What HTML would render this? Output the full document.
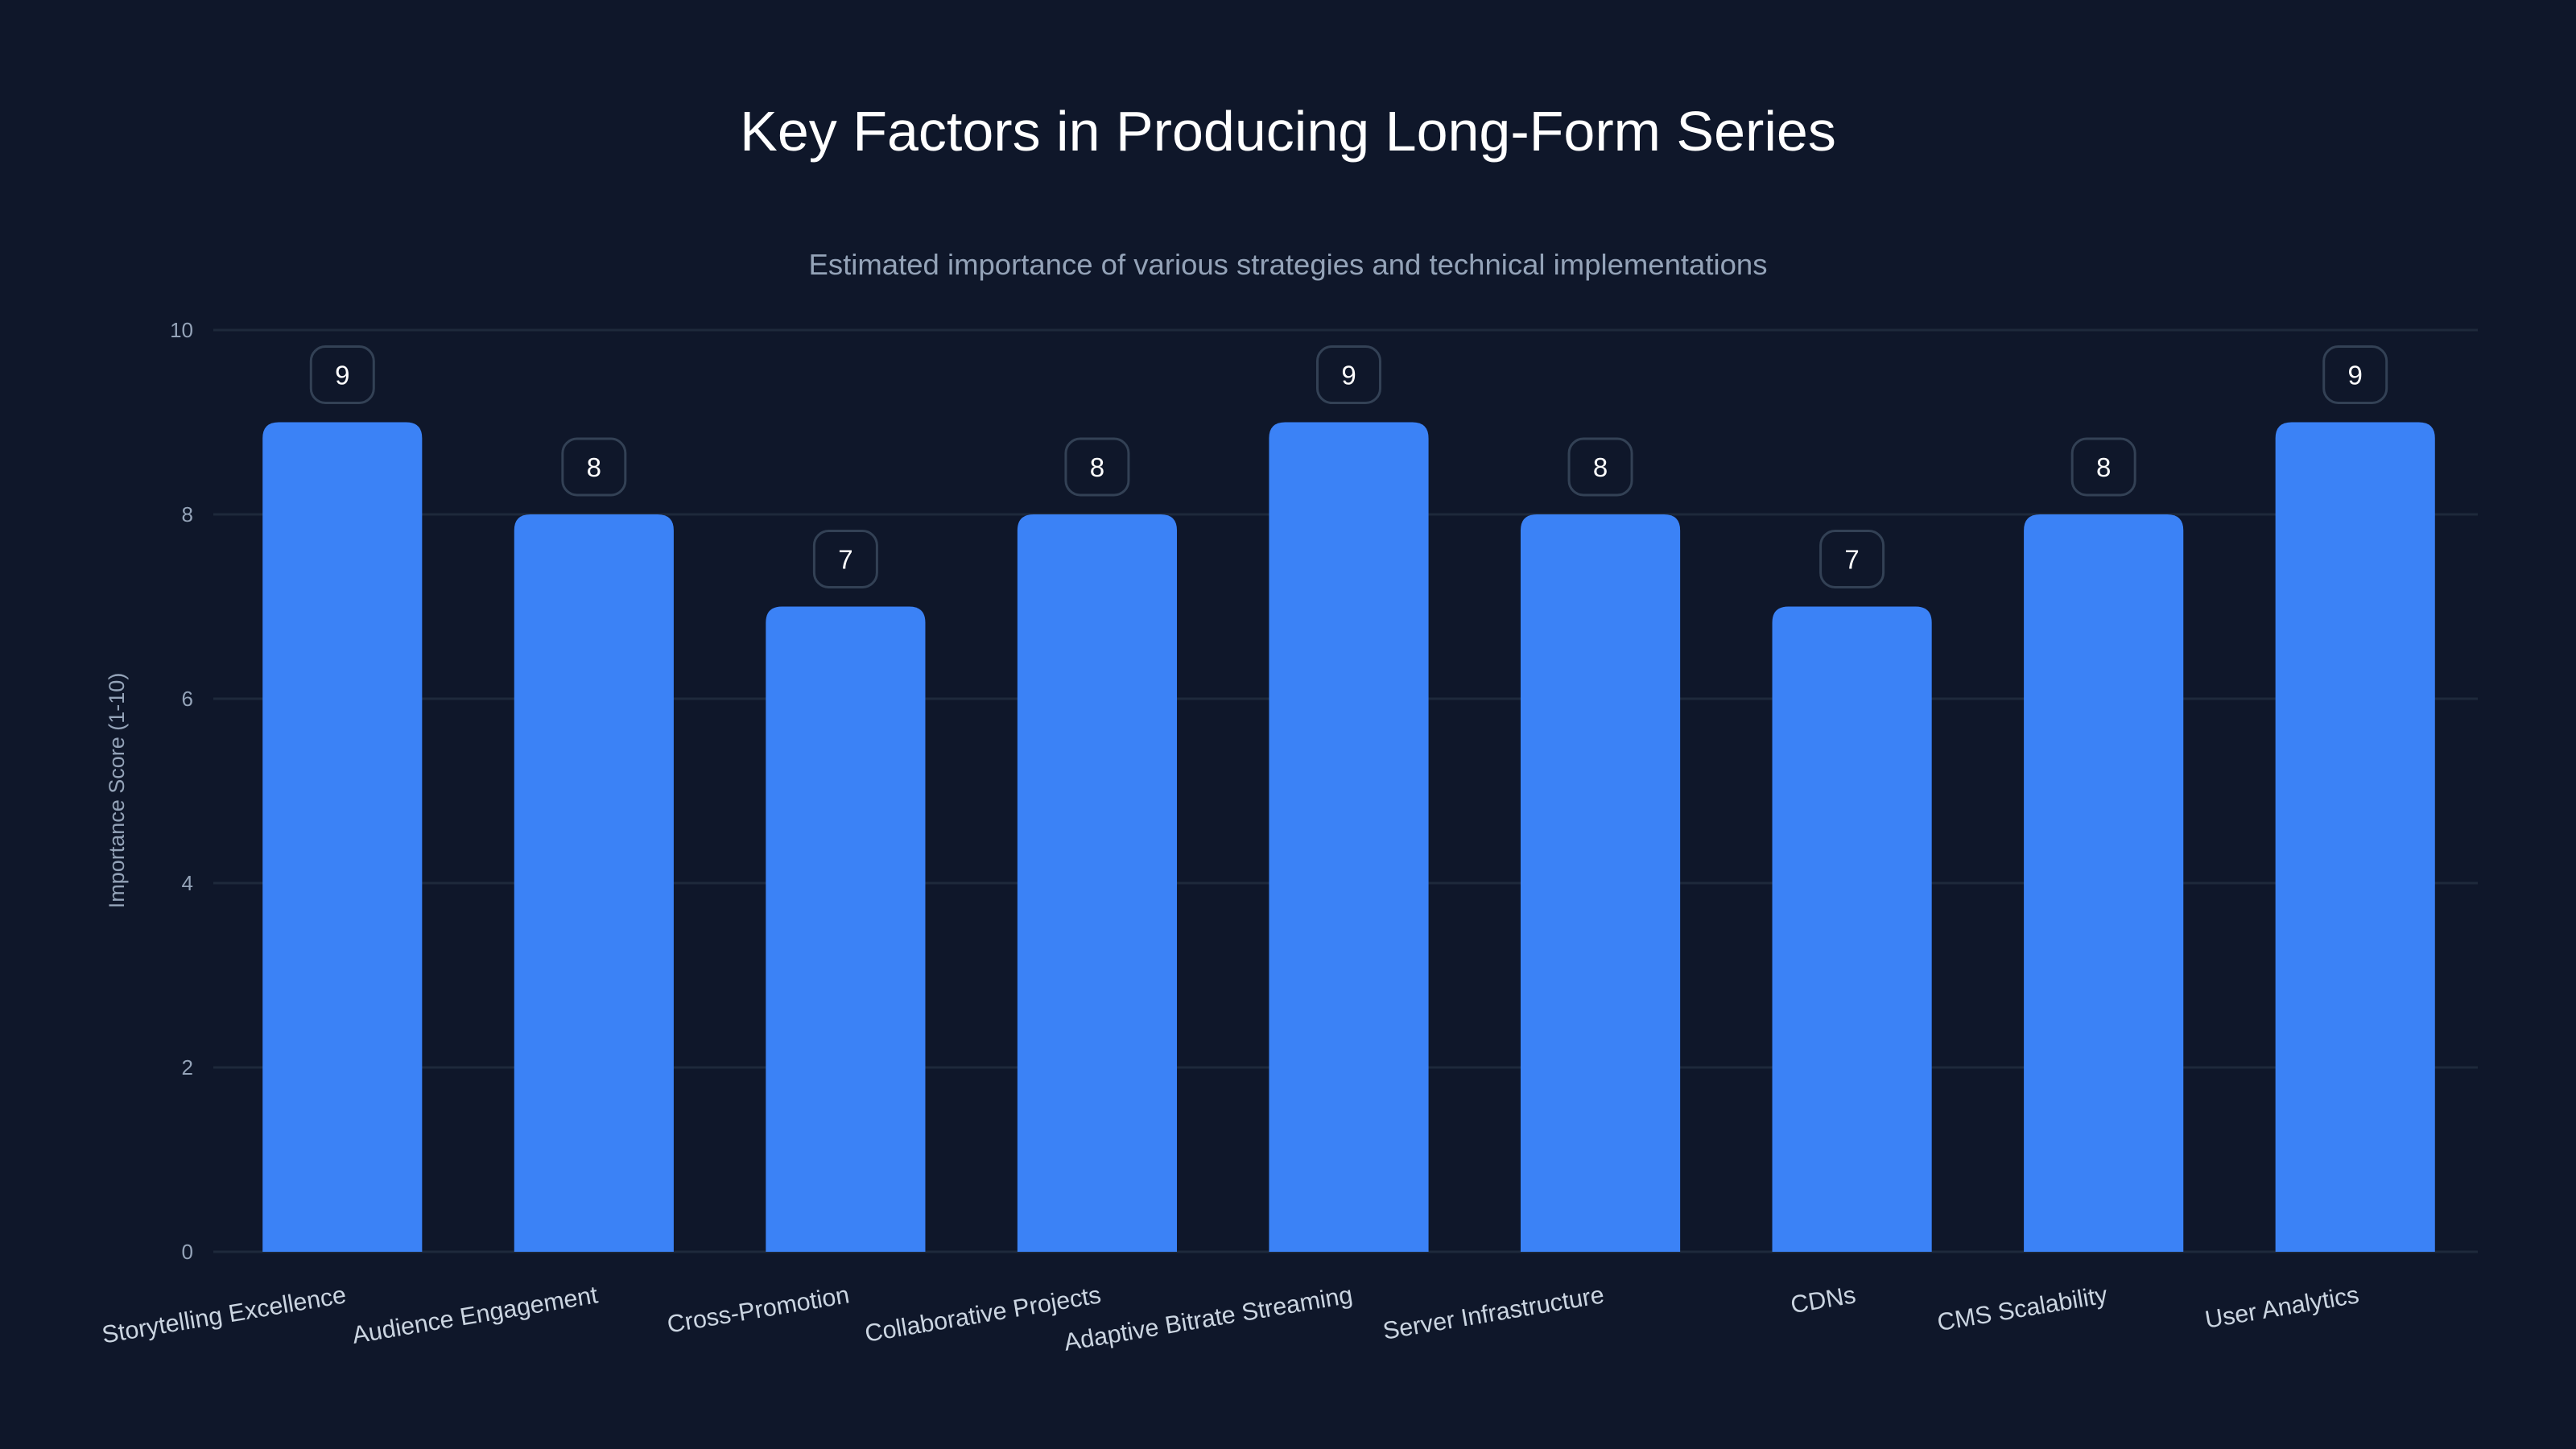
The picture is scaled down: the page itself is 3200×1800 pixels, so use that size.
<!DOCTYPE html>
<html><head><meta charset="utf-8"><style>
html,body{margin:0;padding:0;background:#0f172a;}
svg{display:block;font-family:"Liberation Sans",sans-serif;}
</style></head><body>
<svg id="chart" width="3200" height="1800" viewBox="0 0 3200 1800">
<rect width="3200" height="1800" fill="#0f172a"/>
<text x="1600" y="187" text-anchor="middle" fill="#ffffff" font-size="70">Key Factors in Producing Long-Form Series</text>
<text x="1600" y="341" text-anchor="middle" fill="#94a3b8" font-size="36.5">Estimated importance of various strategies and technical implementations</text>
<text transform="translate(154,982) rotate(-90)" text-anchor="middle" fill="#94a3b8" font-size="27">Importance Score (1-10)</text>
<g id="grid"></g><g id="bars"></g><g id="labels"></g>
</svg>
<script>
const categories=["Storytelling Excellence","Audience Engagement","Cross-Promotion","Collaborative Projects","Adaptive Bitrate Streaming","Server Infrastructure","CDNs","CMS Scalability","User Analytics"];
const values=[9,8,7,8,9,8,7,8,9];
const yTicks=[0,2,4,6,8,10];
const NS="http://www.w3.org/2000/svg";
const L=269,R=3082,T=410,B=1555,yMax=10;
const y=v=>B-(B-T)*v/yMax;
const step=(R-L)/categories.length;
const xc=i=>L+step*(i+0.5);
const bw=step*0.634;
function mk(t,a,p){const e=document.createElementNS(NS,t);for(const k in a)e.setAttribute(k,a[k]);p.appendChild(e);return e;}
const grid=document.getElementById('grid'),bars=document.getElementById('bars'),labels=document.getElementById('labels');
yTicks.forEach(t=>{
 const l=mk('line',{x1:L-4,x2:R-4,y1:y(t),y2:y(t),stroke:'#1e293b','stroke-width':3},grid);
 
 
 const tx=mk('text',{x:240,y:y(t)+9,'text-anchor':'end',fill:'#94a3b8','font-size':26},grid);
 tx.textContent=t;
 
 
});
values.forEach((v,i)=>{
 const x0=xc(i)-bw/2,x1=xc(i)+bw/2,yt=y(v),r=20;
 const p=mk('path',{d:`M${x0},${B}L${x0},${yt+r}Q${x0},${yt} ${x0+r},${yt}L${x1-r},${yt}Q${x1},${yt} ${x1},${yt+r}L${x1},${B}Z`,fill:'#3b82f6'},bars);
 
 
 const bx=mk('rect',{x:xc(i)-39,y:yt-94,width:78,height:70,rx:18,fill:'#0f172a',stroke:'#334155','stroke-width':3},labels);
 
 
 const vt=mk('text',{x:xc(i),y:yt-47,'text-anchor':'middle',fill:'#ffffff','font-size':33},labels);
 vt.textContent=v;
 
 
 const ct=mk('text',{transform:`translate(${xc(i)+6},${1618}) rotate(-9.5)`,'text-anchor':'end',fill:'#cbd5e1','font-size':30.5},labels);
 ct.textContent=categories[i];
 
 
});
</script>
</body></html>
